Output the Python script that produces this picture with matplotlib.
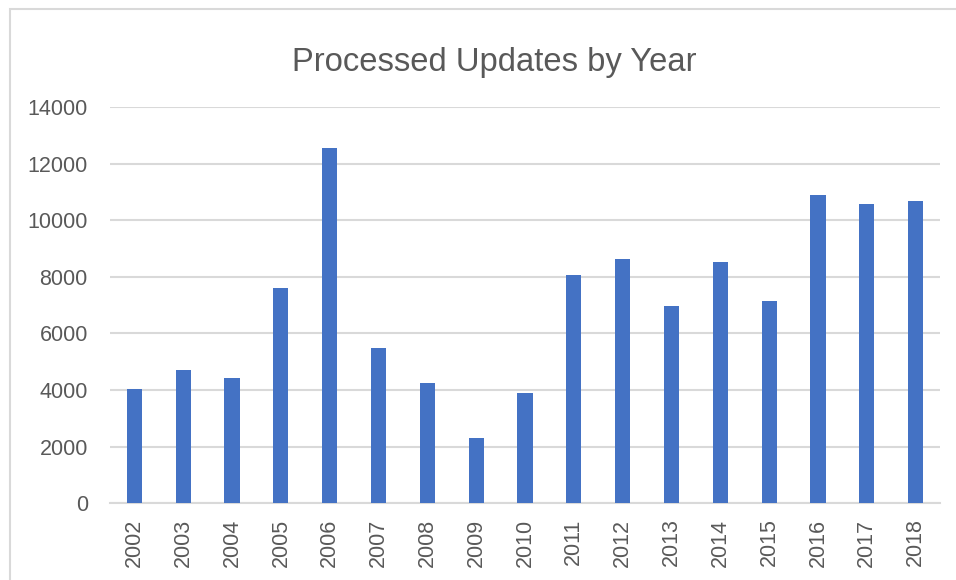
import matplotlib
matplotlib.use("Agg")
import matplotlib.pyplot as plt
from matplotlib.patches import Rectangle

years = ["2002", "2003", "2004", "2005", "2006", "2007", "2008", "2009", "2010",
         "2011", "2012", "2013", "2014", "2015", "2016", "2017", "2018"]
updates = [4040, 4720, 4420, 7590, 12540, 5470, 4240, 2300, 3880,
           8050, 8630, 6970, 8530, 7160, 10900, 10580, 10680]
y_ticks = [0, 2000, 4000, 6000, 8000, 10000, 12000, 14000]
title = "Processed Updates by Year"

plt.rcParams['font.family'] = ['Liberation Sans', 'DejaVu Sans']

fig = plt.figure(figsize=(9.56, 5.8), dpi=100)
fig.patch.set_facecolor("white")

# chart border (extends off right/bottom edge)
fig.add_artist(Rectangle((10 / 956, -0.05), 1.2, 1 - 9 / 580 + 0.05,
                         transform=fig.transFigure, fill=False,
                         edgecolor="#d9d9d9", linewidth=1.5))

ax = fig.add_axes([110 / 956, 1 - 503.3 / 580, 830 / 956, (503.3 - 107) / 580])
x = list(range(len(years)))
ax.bar(x, updates, width=0.31, color="#4472C4", zorder=3)
ax.set_xlim(-0.5, len(years) - 0.5)
ax.set_ylim(0, 14000)
ax.set_yticks(y_ticks)
ax.set_yticklabels([str(v) for v in y_ticks])
ax.set_xticks(x)
ax.set_xticklabels(years, rotation=90)
ax.yaxis.grid(True, color="#d9d9d9", linewidth=1.5, zorder=0)
ax.set_axisbelow(True)
for s in ["top", "right", "left"]:
    ax.spines[s].set_visible(False)
ax.spines["bottom"].set_color("#d9d9d9")
ax.spines["bottom"].set_linewidth(1.5)
ax.tick_params(axis="both", length=0, labelsize=15.5, labelcolor="#595959")
ax.tick_params(axis="y", pad=16)
ax.tick_params(axis="x", pad=11)

fig.text(494 / 956, 1 - 62 / 580, title, ha="center", va="center",
         fontsize=23.6, color="#595959")

fig.savefig("out.png", dpi=100)
